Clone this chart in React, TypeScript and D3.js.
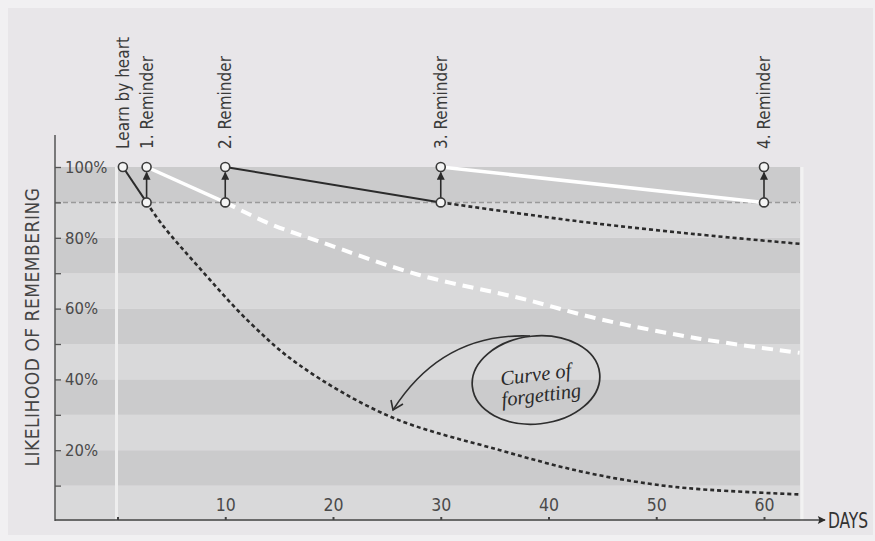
import * as React from "react";
import * as d3 from "d3";

// days on which learning / reminders happen
const reminderDays = [0.5, 2.7, 10, 30, 60];
const reminderLabels = [
  "Learn by heart",
  "1. Reminder",
  "2. Reminder",
  "3. Reminder",
  "4. Reminder",
];
const peakLevel = 100;
const dipLevel = 90;

const yTicks = [10, 20, 30, 40, 50, 60, 70, 80, 90, 100];
const yLabelTicks = [20, 40, 60, 80, 100];
const xTicks = [0, 10, 20, 30, 40, 50, 60];
const xLabelTicks = [10, 20, 30, 40, 50, 60];

// forgetting curves: [day, percent]
const forgetAfterLearn: [number, number][] = [
  [2.7, 90], [4.2, 83.5], [7.6, 71.5], [12.3, 56], [16.9, 44], [25.3, 29.5],
  [35.5, 20], [43, 14], [49.4, 10.5], [54, 9], [63.3, 7.5],
];
const forgetAfterFirst: [number, number][] = [
  [10, 90], [14.1, 84], [18.7, 79], [28, 69.5], [37.3, 63], [44.8, 57],
  [54, 51.5], [63.3, 47.5],
];
const forgetAfterSecond: [number, number][] = [
  [30, 90], [37, 87], [44, 84.2], [53.7, 81], [63.3, 78.3],
];
const forgettingCurves = [forgetAfterLearn, forgetAfterFirst, forgetAfterSecond];

const narrow = "'Liberation Sans Narrow', 'DejaVu Sans Condensed', 'Roboto', sans-serif";

function drawChart(svgEl: SVGSVGElement) {
  const width = 875;
  const height = 541;
  const plotLeft = 55;
  const plotRight = 800;

  const svg = d3.select(svgEl);
  svg.selectAll("*").remove();
  svg.attr("width", width).attr("height", height);

  const x = d3.scaleLinear().domain([0, 60]).range([117.5, 764]);
  const y = d3.scaleLinear().domain([0, 100]).range([521, 167]);

  const defs = svg.append("defs");
  defs
    .append("marker")
    .attr("id", "up-head")
    .attr("viewBox", "0 0 10 10")
    .attr("refX", 9)
    .attr("refY", 5)
    .attr("markerWidth", 5)
    .attr("markerHeight", 5)
    .attr("orient", "auto")
    .append("path")
    .attr("d", "M0,0 L10,5 L0,10 z")
    .attr("fill", "#2b2b2b");
  defs
    .append("marker")
    .attr("id", "axis-head")
    .attr("viewBox", "0 0 10 10")
    .attr("refX", 9)
    .attr("refY", 5)
    .attr("markerWidth", 14)
    .attr("markerHeight", 8)
    .attr("markerUnits", "userSpaceOnUse")
    .attr("orient", "auto")
    .append("path")
    .attr("d", "M0,0 L10,5 L0,10 L2,5 z")
    .attr("fill", "#2b2b2b");

  // background frame
  svg.append("rect").attr("width", width).attr("height", height).attr("fill", "#f1f0f2");
  svg
    .append("rect")
    .attr("x", 8)
    .attr("y", 8)
    .attr("width", width - 10)
    .attr("height", height - 14)
    .attr("fill", "#e8e6e9");

  // stripes
  svg
    .append("g")
    .selectAll("rect")
    .data(d3.range(10))
    .enter()
    .append("rect")
    .attr("x", plotLeft)
    .attr("width", plotRight - plotLeft)
    .attr("y", (i) => y((i + 1) * 10))
    .attr("height", (i) => y(i * 10) - y((i + 1) * 10))
    .attr("fill", (i) => (i % 2 === 1 ? "#cbcbcc" : "#d9d9da"));

  // day 0 line and right edge glow
  svg
    .append("line")
    .attr("x1", x(0) - 1)
    .attr("x2", x(0) - 1)
    .attr("y1", y(100))
    .attr("y2", y(0))
    .attr("stroke", "#eeeeee")
    .attr("stroke-width", 3);
  svg
    .append("line")
    .attr("x1", plotRight + 2)
    .attr("x2", plotRight + 2)
    .attr("y1", y(100))
    .attr("y2", y(0))
    .attr("stroke", "#f2f2f2")
    .attr("stroke-width", 3);

  // 90% guide
  svg
    .append("line")
    .attr("x1", plotLeft)
    .attr("x2", plotRight)
    .attr("y1", y(dipLevel))
    .attr("y2", y(dipLevel))
    .attr("stroke", "#9a9a9a")
    .attr("stroke-width", 1.5)
    .attr("stroke-dasharray", "5,3");

  // y axis
  svg
    .append("line")
    .attr("x1", plotLeft)
    .attr("x2", plotLeft)
    .attr("y1", 135)
    .attr("y2", y(0))
    .attr("stroke", "#555")
    .attr("stroke-width", 1.5);

  const yAxis = d3
    .axisRight(y)
    .tickValues(yTicks)
    .tickSize(6)
    .tickPadding(4)
    .tickFormat((d) => (yLabelTicks.includes(+d) ? `${d}%` : ""));
  const yg = svg
    .append("g")
    .attr("transform", `translate(${plotLeft},0)`)
    .call(yAxis);
  yg.select(".domain").remove();
  yg.selectAll("line").attr("stroke", "#555").attr("stroke-width", 1.3);
  yg.selectAll("text")
    .attr("fill", "#4a4a4a")
    .attr("font-size", 16.5)
    .attr("font-family", narrow);

  svg
    .append("text")
    .attr("transform", `translate(39,327) rotate(-90)`)
    .attr("text-anchor", "middle")
    .attr("font-family", narrow)
    .attr("font-size", 19)
    .attr("letter-spacing", 0.5)
    .attr("fill", "#444")
    .text("LIKELIHOOD OF REMEMBERING");

  // x axis
  svg
    .append("line")
    .attr("x1", plotLeft)
    .attr("x2", 825)
    .attr("y1", y(0) - 1)
    .attr("y2", y(0) - 1)
    .attr("stroke", "#444")
    .attr("stroke-width", 1.5)
    .attr("marker-end", "url(#axis-head)");

  const xAxis = d3
    .axisTop(x)
    .tickValues(xTicks)
    .tickSize(3)
    .tickPadding(6)
    .tickFormat((d) => (xLabelTicks.includes(+d) ? `${d}` : ""));
  const xg = svg
    .append("g")
    .attr("transform", `translate(0,${y(0) - 1})`)
    .call(xAxis);
  xg.select(".domain").remove();
  xg.selectAll("line").attr("stroke", "#444").attr("stroke-width", 2);
  xg.selectAll("text")
    .attr("fill", "#4a4a4a")
    .attr("font-size", 17.5)
    .attr("font-family", narrow);

  svg
    .append("text")
    .attr("transform", `translate(828,${y(0) + 7}) scale(0.82,1)`)
    .attr("font-family", narrow)
    .attr("font-size", 21)
    .attr("fill", "#333")
    .text("DAYS");

  // forgetting curves
  const curveLine = d3
    .line<[number, number]>()
    .x((d) => x(d[0]))
    .y((d) => y(d[1]))
    .curve(d3.curveCatmullRom.alpha(0.5));

  svg
    .append("g")
    .selectAll("path")
    .data(forgettingCurves)
    .enter()
    .append("path")
    .attr("d", (d) => curveLine(d))
    .attr("fill", "none")
    .attr("stroke", (_d, i) => (i % 2 === 0 ? "#2b2b2b" : "#ffffff"))
    .attr("stroke-width", (_d, i) => (i % 2 === 0 ? 2.6 : 4))
    .attr("stroke-dasharray", (_d, i) => (i % 2 === 0 ? "4,3" : "11,7"));

  // relearning segments: from peak at one event to dip at the next
  const segments = reminderDays.slice(0, -1).map((d, i) => ({
    from: d,
    to: reminderDays[i + 1],
    index: i,
  }));
  svg
    .append("g")
    .selectAll("line")
    .data(segments)
    .enter()
    .append("line")
    .attr("x1", (d) => x(d.from))
    .attr("y1", y(peakLevel))
    .attr("x2", (d) => x(d.to))
    .attr("y2", y(dipLevel))
    .attr("stroke", (d) => (d.index % 2 === 0 ? "#2b2b2b" : "#ffffff"))
    .attr("stroke-width", (d) => (d.index % 2 === 0 ? 2 : 3.5));

  // reminder arrows
  const r = 4.5;
  svg
    .append("g")
    .selectAll("line")
    .data(reminderDays.slice(1))
    .enter()
    .append("line")
    .attr("x1", (d) => x(d))
    .attr("x2", (d) => x(d))
    .attr("y1", y(dipLevel) - r)
    .attr("y2", y(peakLevel) + r + 1)
    .attr("stroke", "#2b2b2b")
    .attr("stroke-width", 1.6)
    .attr("marker-end", "url(#up-head)");

  // circles
  const points: [number, number][] = [];
  reminderDays.forEach((d, i) => {
    points.push([d, peakLevel]);
    if (i > 0) points.push([d, dipLevel]);
  });
  svg
    .append("g")
    .selectAll("circle")
    .data(points)
    .enter()
    .append("circle")
    .attr("cx", (d) => x(d[0]))
    .attr("cy", (d) => y(d[1]))
    .attr("r", r)
    .attr("fill", "#f4f4f4")
    .attr("stroke", "#3a3a3a")
    .attr("stroke-width", 1.6);

  // event labels
  svg
    .append("g")
    .selectAll("text")
    .data(reminderDays)
    .enter()
    .append("text")
    .attr("transform", (d) => `translate(${x(d) + 6},149) rotate(-90)`)
    .attr("font-family", narrow)
    .attr("font-size", 17)
    .attr("fill", "#3a3a3a")
    .text((_d, i) => reminderLabels[i]);

  // hand-drawn annotation
  const note = svg.append("g").attr("stroke", "#2e2e2e").attr("fill", "none");
  note
    .append("ellipse")
    .attr("cx", 536)
    .attr("cy", 380)
    .attr("rx", 64)
    .attr("ry", 44)
    .attr("transform", "rotate(-6,536,380)")
    .attr("stroke-width", 1.7);
  note
    .append("path")
    .attr("d", "M530,336 C480,334 430,352 393,410")
    .attr("stroke-width", 1.6);
  note
    .append("path")
    .attr("d", "M391,400 L393,410 L403,404")
    .attr("stroke-width", 1.6);

  const noteText = svg
    .append("g")
    .attr("transform", "rotate(-7,538,385)")
    .attr("font-family", "'Liberation Serif', serif")
    .attr("font-style", "italic")
    .attr("font-size", 20.5)
    .attr("fill", "#2a2a2a")
    .attr("text-anchor", "middle");
  noteText.append("text").attr("x", 537).attr("y", 381).text("Curve of");
  noteText.append("text").attr("x", 540).attr("y", 402).text("forgetting");
}

export default function App() {
  const ref = React.useRef<SVGSVGElement>(null);
  React.useEffect(() => {
    if (ref.current) drawChart(ref.current);
  }, []);

  return (
    <svg
      ref={ref}
      style={{ position: "absolute", left: 0, top: 0, display: "block" }}
    />
  );
}
